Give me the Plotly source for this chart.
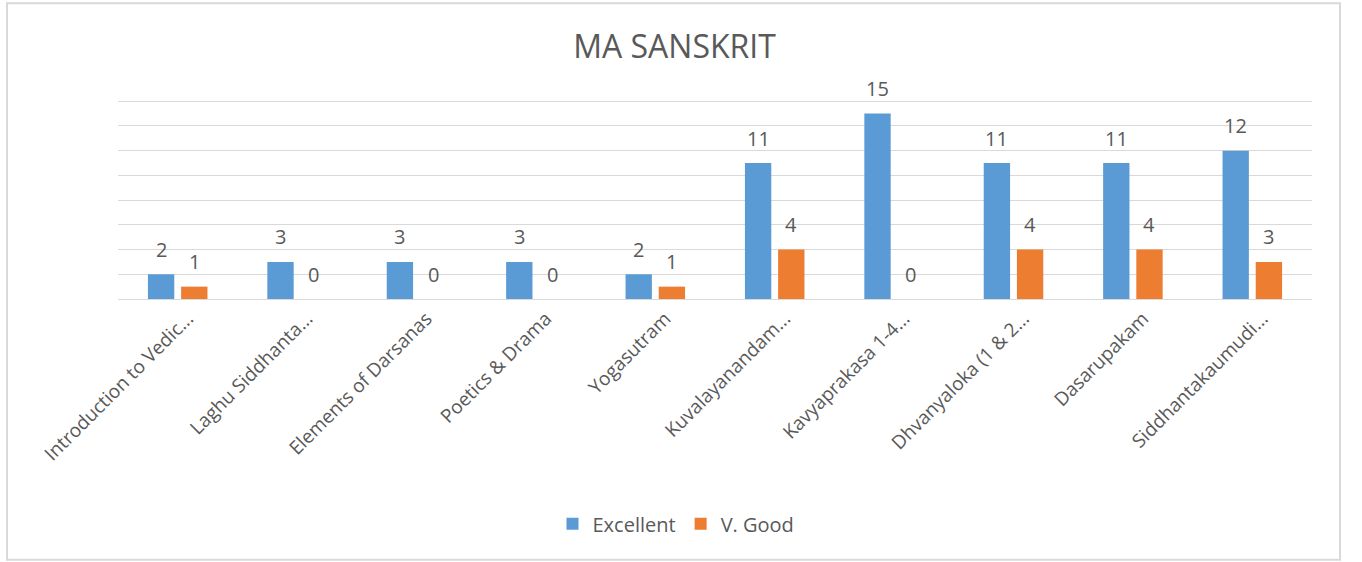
import plotly.graph_objects as go

# Course names (as shown, truncated) and rating counts
courses = [
    "Introduction to Vedic...",
    "Laghu Siddhanta...",
    "Elements of Darsanas",
    "Poetics & Drama",
    "Yogasutram",
    "Kuvalayanandam...",
    "Kavyaprakasa 1-4...",
    "Dhvanyaloka (1 & 2...",
    "Dasarupakam",
    "Siddhantakaumudi...",
]
excellent = [2, 3, 3, 3, 2, 11, 15, 11, 11, 12]
very_good = [1, 0, 0, 0, 1, 4, 0, 4, 4, 3]

BLUE = "#5B9BD5"
ORANGE = "#ED7D31"
TEXT = "#595959"
GRID = "#D9D9D9"
FONT = "Open Sans"

W, H = 1362, 562
# plot area: 0 sits at y=299 px, 16 at y=101 px; a little headroom above 16
Y_MAX = 16.5
PX_PER_UNIT = (299 - 101) / 16
L, R, B = 118, 50, 263
plot_w = W - L - R
plot_h = PX_PER_UNIT * Y_MAX
T = H - B - plot_h

fig = go.Figure()
fig.add_trace(go.Bar(name="Excellent", x=courses, y=excellent,
                     marker=dict(color=BLUE, line=dict(width=0))))
fig.add_trace(go.Bar(name="V. Good", x=courses, y=very_good,
                     marker=dict(color=ORANGE, line=dict(width=0))))

# value labels above each bar
slot = plot_w / len(courses) * (1 - 0.444) / 2
annotations = []
for series, shift in ((excellent, -slot / 2), (very_good, slot / 2)):
    for c, v in zip(courses, series):
        annotations.append(dict(
            x=c, y=v, xref="x", yref="y", text=str(v), showarrow=False,
            xshift=shift, yshift=25, yanchor="middle",
            font=dict(family=FONT, size=20, color=TEXT)))


def px_x(p):
    return (p - L) / plot_w


def px_y(p):
    return (H - B - p) / plot_h


fig.update_layout(
    width=W, height=H,
    margin=dict(l=L, r=R, t=T, b=B),
    paper_bgcolor="white", plot_bgcolor="white",
    barmode="group", bargap=0.444, bargroupgap=0.206,
    font=dict(family=FONT, color=TEXT),
    title=dict(text="MA SANSKRIT", x=674.5 / W, xref="container", xanchor="center",
               y=1 - 47 / H, yref="container", yanchor="middle",
               font=dict(family=FONT, size=32, color=TEXT)),
    xaxis=dict(tickangle=-45, tickfont=dict(family=FONT, size=19, color=TEXT),
               showline=True, linecolor=GRID, linewidth=1, ticks="",
               ticklabelshift=10, ticklabelstandoff=0),
    yaxis=dict(range=[0, Y_MAX], tickvals=list(range(0, 17, 2)),
               showticklabels=False, showgrid=True,
               gridcolor=GRID, gridwidth=1, zeroline=False, ticks=""),
    legend=dict(orientation="h", x=px_x(676), xanchor="center",
                y=px_y(524), yanchor="middle", itemwidth=30,
                font=dict(family=FONT, size=20, color=TEXT)),
    annotations=annotations,
    shapes=[dict(type="rect", xref="paper", yref="paper",
                 x0=px_x(7), x1=px_x(1340), y0=px_y(560), y1=px_y(3),
                 line=dict(color=GRID, width=2), fillcolor="rgba(0,0,0,0)",
                 layer="below")],
)

fig.write_html("out.html")
